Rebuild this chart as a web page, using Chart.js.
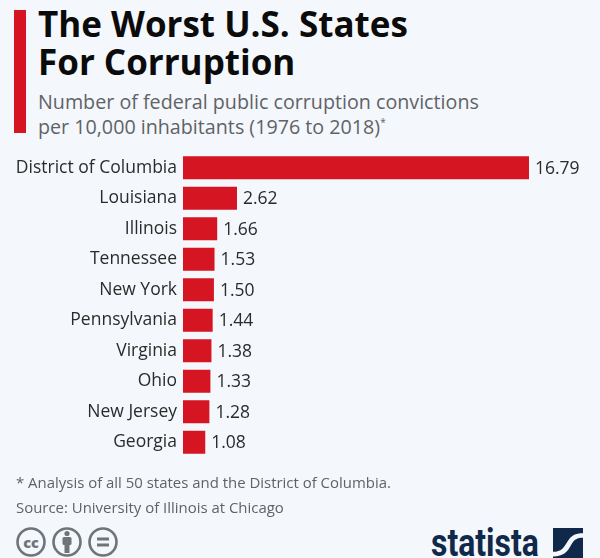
<!DOCTYPE html>
<html>
<head>
<meta charset="utf-8">
<script src="https://cdn.jsdelivr.net/npm/chart.js@4/dist/chart.umd.js"></script>
<style>
  html, body { margin: 0; padding: 0; background: #f4f7fb; }
  #page { position: relative; width: 600px; height: 558px; overflow: hidden; font-family: "Open Sans", sans-serif; }
  #page > * { position: absolute; }
  #accent { left: 14px; top: 10px; width: 12px; height: 123px; background: #d61523; }
  #title { left: 38px; top: 5px; font-size: 35px; line-height: 37.5px; font-weight: 700; color: #0b0b0b; white-space: nowrap; }
  #subtitle { left: 38px; top: 90px; font-size: 19.7px; line-height: 24.5px; color: #5f6367; white-space: nowrap; }
  #subtitle sup { font-size: 10px; line-height: 0; }
  #chartBox { left: 0; top: 136px; width: 600px; height: 338px; }
  #notes { left: 16px; top: 470px; font-size: 14.95px; line-height: 24.5px; color: #5f6367; white-space: nowrap; }
  #cc { left: 16px; top: 527px; }
  #logoText { left: 431px; top: 521px; font-family: "Roboto", sans-serif; font-size: 38px; line-height: 44px; font-weight: 700; color: #10294a; transform: scaleX(0.84); transform-origin: left top; white-space: nowrap; }
  #logoIcon { left: 553px; top: 528px; }
</style>
</head>
<body>
<div id="page">
  <div id="accent"></div>
  <div id="title">The Worst U.S. States<br>For Corruption</div>
  <div id="subtitle">Number of federal public corruption convictions<br>per 10,000 inhabitants (1976 to 2018)<sup>*</sup></div>
  <div id="chartBox"><canvas id="corruptionChart"></canvas></div>
  <div id="notes">* Analysis of all 50 states and the District of Columbia.<br>Source: University of Illinois at Chicago</div>
  <svg id="cc" width="104" height="30" viewBox="0 0 104 30" fill="none" stroke="#6f7478" stroke-width="2.6">
    <circle cx="15" cy="15" r="13.5"/>
    <circle cx="51" cy="15" r="13.5"/>
    <circle cx="87" cy="15" r="13.5"/>
    <text x="15" y="20.5" text-anchor="middle" font-family="Open Sans" font-weight="800" font-size="14.5" fill="#6f7478" stroke="none">cc</text>
    <g fill="#6f7478" stroke="none">
      <circle cx="51" cy="6.5" r="2.6"/>
      <rect x="46.5" y="10" width="9" height="8" rx="1.5"/>
      <rect x="48.5" y="16" width="5" height="10"/>
      <rect x="81" y="10.5" width="12" height="3"/>
      <rect x="81" y="16.5" width="12" height="3"/>
    </g>
  </svg>
  <div id="logoText">statista</div>
  <svg id="logoIcon" width="30" height="30" viewBox="0 0 31 29" preserveAspectRatio="none">
    <rect width="31" height="29" fill="#10294a"/>
    <path d="M0 23 C9 23 11 19 15 13 C19 7 23 5 31 5 L31 9.5 C25 9.5 22 11 19 16 C15 23 11 27.5 0 27.5 Z" fill="#f4f7fb"/>
  </svg>
</div>
<script>
const states = ["District of Columbia", "Louisiana", "Illinois", "Tennessee", "New York", "Pennsylvania", "Virginia", "Ohio", "New Jersey", "Georgia"];
const convictions = [16.79, 2.62, 1.66, 1.53, 1.5, 1.44, 1.38, 1.33, 1.28, 1.08];

const valueLabels = {
  id: "valueLabels",
  afterDatasetsDraw(chart) {
    const ctx = chart.ctx;
    ctx.save();
    ctx.font = '17.5px "Open Sans"';
    ctx.fillStyle = "#2b2b2b";
    ctx.textBaseline = "middle";
    chart.getDatasetMeta(0).data.forEach((bar, i) => {
      ctx.fillText(convictions[i].toFixed(2), bar.x + 6, bar.y + 1);
    });
    ctx.restore();
  },
};

new Chart(document.getElementById("corruptionChart"), {
  type: "bar",
  data: {
    labels: states,
    datasets: [{ data: convictions, backgroundColor: "#d61523", barPercentage: 0.76, categoryPercentage: 1 }],
  },
  options: {
    indexAxis: "y",
    responsive: true,
    maintainAspectRatio: false,
    animation: false,
    layout: { autoPadding: false, padding: { right: 71, top: 0, bottom: 0, left: 0 } },
    plugins: { legend: { display: false }, tooltip: { enabled: false } },
    scales: {
      x: { display: false, min: 0, max: 16.79 },
      y: {
        afterFit(scale) { scale.width = 183; },
        grid: { display: false, drawTicks: false },
        border: { display: false },
        ticks: { color: "#2b2b2b", padding: 6, font: { family: "Open Sans", size: 17.5 } },
      },
    },
  },
  plugins: [valueLabels],
});
</script>
</body>
</html>
